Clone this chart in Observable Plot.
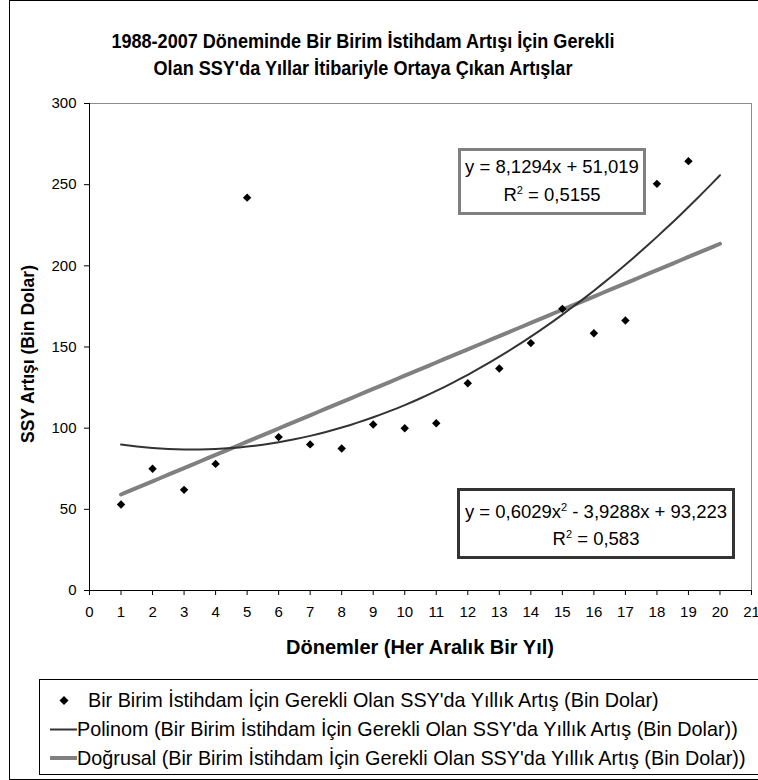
<!DOCTYPE html>
<html>
<head>
<meta charset="utf-8">
<script src="https://cdn.jsdelivr.net/npm/d3@7"></script>
<script src="https://cdn.jsdelivr.net/npm/@observablehq/plot@0.6"></script>
<style>
  body { margin: 0; background: #fff; }
  #chart { position: relative; width: 758px; height: 780px; overflow: hidden; font-family: "Liberation Sans", Arial, sans-serif; color: #000; }
  #border { position: absolute; left: 9px; top: 0; width: 800px; height: 780px; border: 1px solid #000; box-sizing: border-box; }
  #title { position: absolute; left: 0; top: 27px; width: 726px; text-align: center; font-weight: bold; font-size: 21px; line-height: 27px; transform: scaleX(0.86); transform-origin: 363px 0; }
  #plot { position: absolute; left: 0; top: 0; }
  #ylabel { position: absolute; left: 28px; top: 354px; transform: translate(-50%, -50%) rotate(-90deg); white-space: nowrap; font-weight: bold; font-size: 17.5px; }
  #xlabel { position: absolute; left: 420px; top: 647px; transform: translate(-50%, -50%); white-space: nowrap; font-weight: bold; font-size: 20px; }
  .eq { position: absolute; box-sizing: border-box; background: #fff; text-align: center; font-size: 18.5px; white-space: nowrap; }
  .eq sup { font-size: 11px; vertical-align: 7px; line-height: 0; }
  #eqLinear { left: 458px; top: 148px; width: 188px; height: 67px; border: 3px solid #808080; padding-top: 2px; line-height: 28px; }
  #eqPoly { left: 457px; top: 488px; width: 278px; height: 71px; border: 3px solid #333; padding-top: 7px; line-height: 27px; }
  #legend { position: absolute; left: 39px; top: 679px; width: 760px; height: 96px; border: 1px solid #000; box-sizing: border-box; background: #fff; font-size: 19.8px; }
  .row { position: absolute; left: 0; height: 30px; display: flex; align-items: center; white-space: nowrap; }
  .row svg { flex: none; }
</style>
</head>
<body>
<div id="chart">
  <div id="border"></div>
  <div id="plot"></div>
  <div id="title"></div>
  <div id="ylabel"></div>
  <div id="xlabel"></div>
  <div id="eqLinear" class="eq"></div>
  <div id="eqPoly" class="eq"></div>
  <div id="legend"></div>
</div>
<script>
// Annual increase of fixed capital (SSY) required per unit of employment growth, 1988-2007
const titleLines = [
  "1988-2007 Döneminde Bir Birim İstihdam Artışı İçin Gerekli",
  "Olan SSY'da Yıllar İtibariyle Ortaya Çıkan Artışlar"
];
const yAxisTitle = "SSY Artışı (Bin Dolar)";
const xAxisTitle = "Dönemler (Her Aralık Bir Yıl)";

const periods = [1, 2, 3, 4, 5, 6, 7, 8, 9, 10, 11, 12, 13, 14, 15, 16, 17, 18, 19];
const ssyIncrease = [53, 75, 62, 78, 242, 94.5, 90, 87.5, 102.3, 100, 103, 127.7, 136.8, 152.4, 173.5, 158.5, 166.3, 250.5, 264.5];

const xTicks = [0, 1, 2, 3, 4, 5, 6, 7, 8, 9, 10, 11, 12, 13, 14, 15, 16, 17, 18, 19, 20, 21];
const yTicks = [0, 50, 100, 150, 200, 250, 300];

// Trend lines, from the fitted equations shown in the boxes (forecast one period forward)
const linearCoef = [8.1294, 51.019];          // slope, intercept
const linearR2 = "0,5155";
const polyCoef = [0.6029, -3.9288, 93.223];   // x², x, constant
const polyR2 = "0,583";
const trendRange = [1, 20];

const legendLabels = [
  "Bir Birim İstihdam İçin Gerekli Olan SSY'da Yıllık Artış (Bin Dolar)",
  "Polinom (Bir Birim İstihdam İçin Gerekli Olan SSY'da Yıllık Artış (Bin Dolar))",
  "Doğrusal (Bir Birim İstihdam İçin Gerekli Olan SSY'da Yıllık Artış (Bin Dolar))"
];

const fmt = v => String(Math.abs(v)).replace(".", ",");

const points = periods.map((p, i) => ({period: p, value: ssyIncrease[i]}));
const trendX = d3.range(trendRange[0], trendRange[1] + 1e-9, 0.25);
const linearLine = trendX.map(x => ({x, y: linearCoef[0] * x + linearCoef[1]}));
const polyLine = trendX.map(x => ({x, y: polyCoef[0] * x * x + polyCoef[1] * x + polyCoef[2]}));

const chart = Plot.plot({
  width: 758,
  height: 670,
  marginLeft: 89,
  marginRight: 7,
  marginTop: 103,
  marginBottom: 80,
  x: {domain: [0, 21]},
  y: {domain: [0, 300]},
  style: {fontFamily: "'Liberation Sans', Arial, sans-serif", fontSize: "15px", color: "#000", background: "transparent"},
  marks: [
    Plot.frame({stroke: "#8c8c8c"}),
    Plot.axisY(yTicks, {tickSize: 5, tickPadding: 8, label: null, fontSize: 15}),
    Plot.axisX(xTicks, {tickSize: 5, tickPadding: 11, label: null, fontSize: 15}),
    Plot.ruleX([0], {stroke: "#000"}),
    Plot.ruleY([0], {stroke: "#000"}),
    Plot.line(linearLine, {x: "x", y: "y", stroke: "#808080", strokeWidth: 4}),
    Plot.line(polyLine, {x: "x", y: "y", stroke: "#333", strokeWidth: 2}),
    Plot.dot(points, {x: "period", y: "value", symbol: "diamond2", r: 3.8, fill: "#000"})
  ]
});
document.getElementById("plot").appendChild(chart);

document.getElementById("title").innerHTML = titleLines.join("<br>");
document.getElementById("ylabel").textContent = yAxisTitle;
document.getElementById("xlabel").textContent = xAxisTitle;

document.getElementById("eqLinear").innerHTML =
  `<div>y = ${fmt(linearCoef[0])}x + ${fmt(linearCoef[1])}</div>` +
  `<div>R<sup>2</sup> = ${linearR2}</div>`;
document.getElementById("eqPoly").innerHTML =
  `<div>y = ${fmt(polyCoef[0])}x<sup>2</sup> ${polyCoef[1] < 0 ? "-" : "+"} ${fmt(polyCoef[1])}x + ${fmt(polyCoef[2])}</div>` +
  `<div>R<sup>2</sup> = ${polyR2}</div>`;

// Legend: marker sample + series name
const legend = document.getElementById("legend");
const samples = [
  `<svg width="48" height="30"><path d="M24,11 L28.5,15.5 L24,20 L19.5,15.5 Z" fill="#000"/></svg>`,
  `<svg width="37" height="30"><line x1="10" x2="37" y1="15.5" y2="15.5" stroke="#333" stroke-width="2"/></svg>`,
  `<svg width="37" height="30"><line x1="10" x2="37" y1="15" y2="15" stroke="#808080" stroke-width="4"/></svg>`
];
const rowTops = [5, 34, 63];
legendLabels.forEach((label, i) => {
  const row = document.createElement("div");
  row.className = "row";
  row.style.top = rowTops[i] + "px";
  row.innerHTML = samples[i] + `<span>${label}</span>`;
  legend.appendChild(row);
});
</script>
</body>
</html>
